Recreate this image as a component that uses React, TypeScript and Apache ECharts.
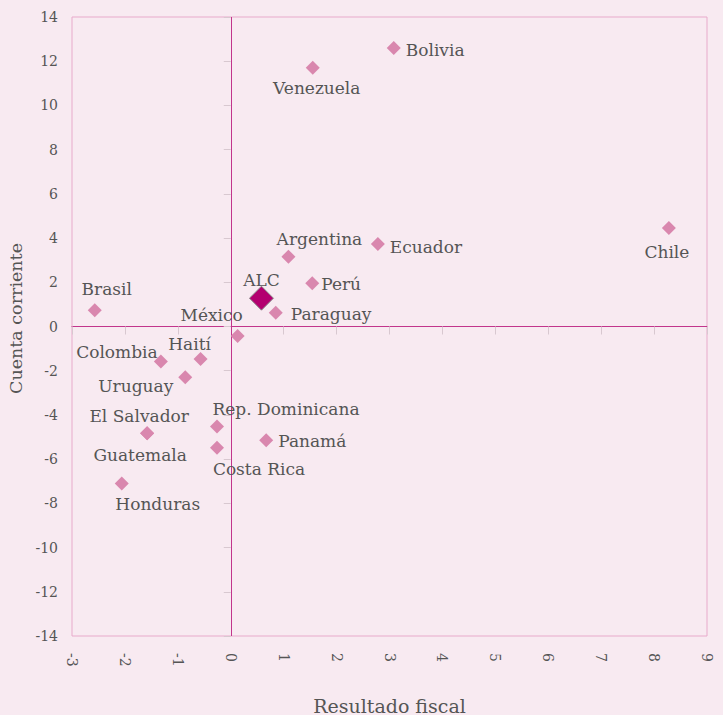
import React, { useEffect, useRef } from "react";
import * as echarts from "echarts";

const countries = [
  "Bolivia", "Venezuela", "Chile", "Ecuador", "Argentina", "Perú", "Paraguay",
  "Brasil", "México", "Colombia", "Haití", "Uruguay", "El Salvador", "Guatemala",
  "Honduras", "Rep. Dominicana", "Costa Rica", "Panamá",
];
const fiscalBalance = [
  3.08, 1.55, 8.28, 2.78, 1.09, 1.54, 0.85,
  -2.57, 0.13, -1.32, -0.57, -0.86, -1.58, -1.58,
  -2.06, -0.26, -0.26, 0.67,
];
const currentAccount = [
  12.6, 11.7, 4.45, 3.73, 3.16, 1.96, 0.62,
  0.74, -0.43, -1.58, -1.47, -2.29, -4.83, -4.83,
  -7.1, -4.52, -5.48, -5.15,
];
const alcName = "ALC";
const alcPoint = [0.58, 1.28];

const xTicks = { min: -3, max: 9, interval: 1 };
const yTicks = { min: -14, max: 14, interval: 2 };

// label placement per country (styling only)
const labelPlacement: Record<string, { position: string; offset: [number, number] }> = {
  Bolivia: { position: "right", offset: [0, 2] },
  Venezuela: { position: "bottom", offset: [4, 0] },
  Chile: { position: "bottom", offset: [-2, 3] },
  Ecuador: { position: "right", offset: [0, 3] },
  Argentina: { position: "top", offset: [31, 3] },
  "Perú": { position: "right", offset: [-3, 1] },
  Paraguay: { position: "right", offset: [3, 1] },
  Brasil: { position: "top", offset: [12, -1] },
  "México": { position: "top", offset: [-26, -1] },
  Colombia: { position: "top", offset: [-44, 11] },
  "Haití": { position: "top", offset: [-11, 6] },
  Uruguay: { position: "left", offset: [0, 9] },
  "El Salvador": { position: "top", offset: [-8, 3] },
  Guatemala: { position: "bottom", offset: [-7, 1] },
  Honduras: { position: "bottom", offset: [36, 0] },
  "Rep. Dominicana": { position: "top", offset: [69, 3] },
  "Costa Rica": { position: "bottom", offset: [42, 1] },
  "Panamá": { position: "right", offset: [0, 1] },
};

const BG = "#f8eaf1";
const FONT = "DejaVu Serif";
const TEXT = "#555555";
const AXIS = "#c2358c";
const LABEL_SIZE = 17;

export default function App() {
  const ref = useRef<HTMLDivElement>(null);
  useEffect(() => {
    document.body.style.margin = "0";
    document.body.style.background = BG;
    const chart = echarts.init(ref.current!, null, { renderer: "svg" });
    const data = countries.map((n, i) => {
      const p = labelPlacement[n];
      return {
        name: n,
        value: [fiscalBalance[i], currentAccount[i]],
        label: { position: p.position, offset: p.offset },
      };
    });
    chart.setOption({
      animation: false,
      backgroundColor: BG,
      textStyle: { fontFamily: FONT },
      grid: {
        left: 72,
        right: 16,
        top: 17,
        bottom: 79,
        containLabel: false,
        outerBoundsMode: "none",
        show: true,
        borderColor: "#e8aacb",
        borderWidth: 1,
        backgroundColor: "transparent",
      },
      xAxis: [
        {
          type: "value",
          ...xTicks,
          axisLine: { show: true, onZero: true, lineStyle: { color: AXIS, width: 1 } },
          axisTick: { show: true, length: 8, lineStyle: { color: "#d8c8d0" } },
          axisLabel: { show: false },
          splitLine: { show: false },
        },
        {
          type: "value",
          position: "bottom",
          ...xTicks,
          axisLine: { show: false, onZero: false },
          axisTick: { show: false },
          splitLine: { show: false },
          axisLabel: {
            rotate: -90,
            margin: 17,
            color: TEXT,
            fontFamily: FONT,
            fontSize: 14,
          },
          name: "Resultado fiscal",
          nameLocation: "middle",
          nameGap: 60,
          nameTextStyle: { color: TEXT, fontFamily: FONT, fontSize: 19 },
        },
      ],
      yAxis: [
        {
          type: "value",
          ...yTicks,
          axisLine: { show: false, onZero: true, lineStyle: { color: AXIS, width: 1 } },
          axisTick: { show: true, length: 7, lineStyle: { color: "#d8c8d0" } },
          axisLabel: { show: false },
          splitLine: { show: false },
        },
        {
          type: "value",
          position: "left",
          ...yTicks,
          axisLine: { show: false, onZero: false },
          axisTick: { show: false },
          splitLine: { show: false },
          axisLabel: {
            margin: 14,
            color: TEXT,
            fontFamily: FONT,
            fontSize: 14,
          },
          name: "Cuenta corriente",
          nameLocation: "middle",
          nameGap: 36,
          nameTextStyle: { color: TEXT, fontFamily: FONT, fontSize: 17.5, padding: [0, 0, 0, 16] },
        },
      ],
      series: [
        {
          type: "scatter",
          xAxisIndex: 0,
          yAxisIndex: 0,
          symbol: "diamond",
          symbolSize: 14,
          itemStyle: { color: "#d987ae", opacity: 1 },
          label: {
            show: true,
            formatter: "{b}",
            color: TEXT,
            fontFamily: FONT,
            fontSize: LABEL_SIZE,
            distance: 5,
          },
          markLine: {
            silent: true,
            symbol: "none",
            label: { show: false },
            lineStyle: { color: AXIS, width: 1, type: "solid", opacity: 1 },
            data: [{ xAxis: 0 }],
            z: 1,
          },
          data,
          z: 2,
        },
        {
          type: "scatter",
          xAxisIndex: 0,
          yAxisIndex: 0,
          symbol: "diamond",
          symbolSize: 24,
          itemStyle: { color: "#b3006f", borderColor: "#8a8a8a", borderWidth: 1, opacity: 1 },
          label: {
            show: true,
            formatter: "{b}",
            position: "top",
            offset: [0, 8],
            distance: 5,
            color: TEXT,
            fontFamily: FONT,
            fontSize: LABEL_SIZE,
          },
          data: [{ name: alcName, value: alcPoint }],
          z: 3,
        },
      ],
    });
    return () => chart.dispose();
  }, []);
  return <div ref={ref} style={{ width: 723, height: 715, background: BG }} />;
}
